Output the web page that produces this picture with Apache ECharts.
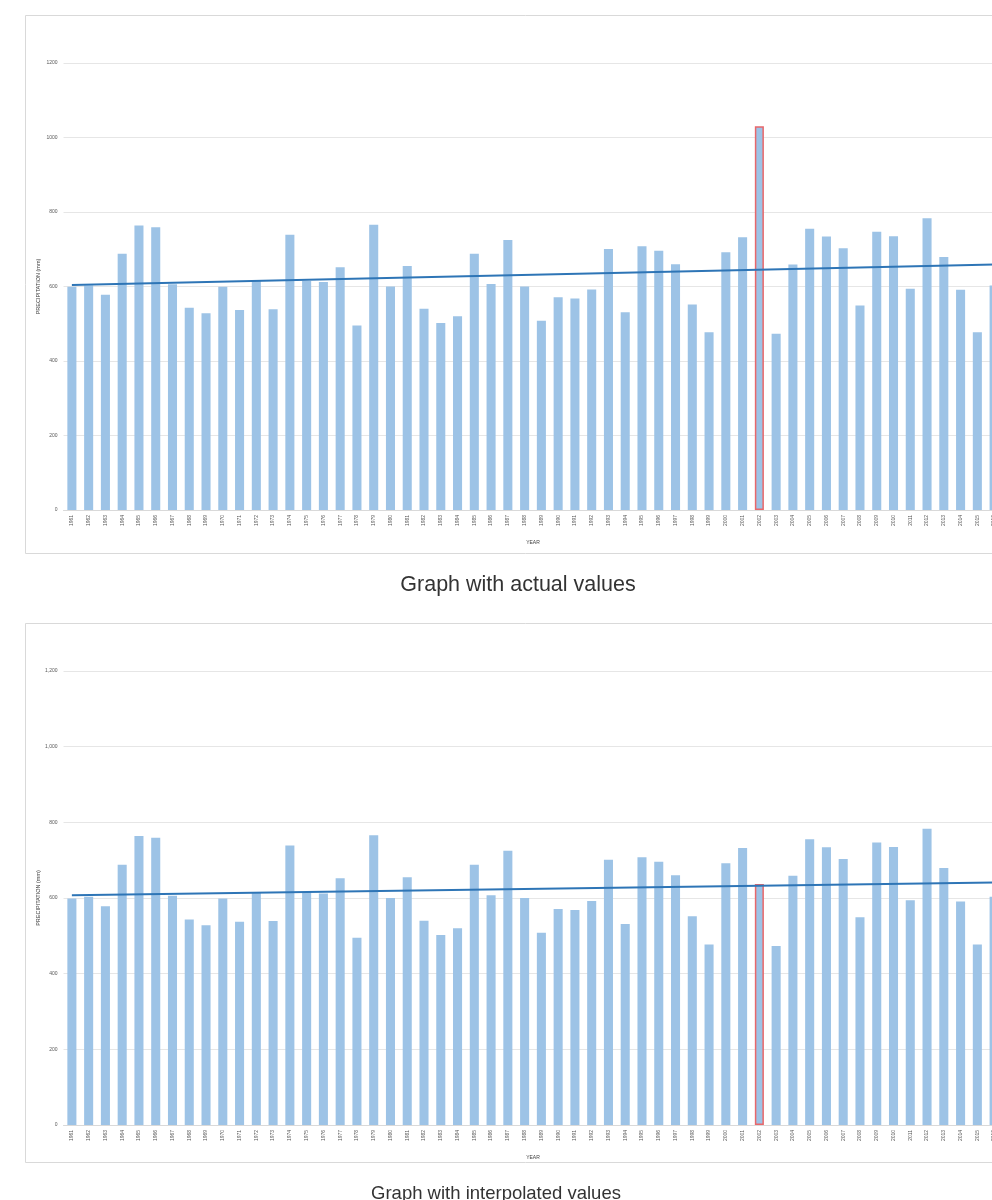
<!DOCTYPE html>
<html>
<head>
<meta charset="utf-8">
<script src="https://cdn.jsdelivr.net/npm/echarts@6/dist/echarts.min.js"></script>
<style>
    html, body { margin: 0; padding: 0; background: #fff; overflow: hidden; }
    #chart { position: absolute; left: 0; top: 0; width: 1040px; height: 1200px; }
</style>
</head>
<body>
<div id="chart"></div>
<script>
// precipitation per year (mm)
var years = ['1961','1962','1963','1964','1965','1966','1967','1968','1969','1970',
    '1971','1972','1973','1974','1975','1976','1977','1978','1979','1980',
    '1981','1982','1983','1984','1985','1986','1987','1988','1989','1990',
    '1991','1992','1993','1994','1995','1996','1997','1998','1999','2000',
    '2001','2002','2003','2004','2005','2006','2007','2008','2009','2010',
    '2011','2012','2013','2014','2015','2016'];
var actualValues = [599,603,578,688,764,759,606,543,528,599,
    537,615,539,739,615,612,652,495,766,600,
    655,540,502,520,688,607,725,600,508,571,
    568,592,701,531,708,696,660,552,477,692,
    732,1030,473,659,755,734,703,549,747,735,
    594,783,679,591,477,603];
var interpolatedValues = [599,603,578,688,764,759,606,543,528,599,
    537,615,539,739,615,612,652,495,766,600,
    655,540,502,520,688,607,725,600,508,571,
    568,592,701,531,708,696,660,552,477,692,
    732,637,473,659,755,734,703,549,747,735,
    594,783,679,591,477,603];
var highlightYear = '2002';
// trend line end points (first year, last year)
var trendActual = [604, 659];
var trendInterpolated = [607, 641];
var captions = ['Graph with actual values', 'Graph with interpolated values'];

var barColor = '#9dc3e6';
var trendColor = '#2e75b6';

function barData(values){
    return values.map(function(v, i){
        if(years[i] === highlightYear){
            return {value: v, itemStyle: {borderColor: '#e8676b', borderWidth: 1.5}};
        }
        return v;
    });
}

function xAxisFor(idx){
    return {
        type: 'category',
        gridIndex: idx,
        data: years,
        name: 'YEAR',
        nameLocation: 'middle',
        nameGap: 30,
        nameTextStyle: {fontSize: 5, color: '#404040', fontFamily: 'Liberation Sans'},
        axisLine: {lineStyle: {color: '#d9d9d9'}},
        axisTick: {show: false},
        axisLabel: {interval: 0, rotate: 90, fontSize: 5, color: '#595959', margin: 5, fontFamily: 'Liberation Sans'}
    };
}

function yAxisFor(idx, comma){
    return {
        type: 'value',
        gridIndex: idx,
        min: 0,
        max: 1200,
        interval: 200,
        name: 'PRECIPITATION (mm)',
        nameLocation: 'middle',
        nameGap: 22,
        nameMoveOverlap: false,
        nameTextStyle: {fontSize: 5.5, color: '#404040', fontFamily: 'Liberation Sans'},
        axisLine: {show: false},
        axisTick: {show: false},
        axisLabel: {
            fontSize: 5, color: '#595959', margin: 6, fontFamily: 'Liberation Sans',
            formatter: function(v){ return comma ? echarts.format.addCommas(v) : String(v); }
        },
        splitLine: {lineStyle: {color: '#e6e6e6'}}
    };
}

function trendLine(ends){
    return {
        silent: true,
        symbol: 'none',
        label: {show: false},
        lineStyle: {color: trendColor, width: 2, type: 'solid'},
        data: [[
            {coord: [years[0], ends[0]]},
            {coord: [years[years.length - 1], ends[1]]}
        ]]
    };
}

var myChart = echarts.init(document.getElementById('chart'));
var option = {
    animation: false,
    backgroundColor: '#fff',
    title: [
        {text: captions[0], left: 513, top: 569, textAlign: 'center',
            textStyle: {fontSize: 21.5, fontWeight: 'normal', color: '#333', fontFamily: 'Liberation Sans'}},
        {text: captions[1], left: 491, top: 1179, textAlign: 'center',
            textStyle: {fontSize: 18.5, fontWeight: 'normal', color: '#333', fontFamily: 'Liberation Sans'}}
    ],
    graphic: [
        {type: 'rect', shape: {x: 25.5, y: 15.5, width: 1000, height: 538}, style: {fill: 'none', stroke: '#d9d9d9', lineWidth: 1}, z: -1},
        {type: 'rect', shape: {x: 25.5, y: 623.5, width: 1000, height: 539}, style: {fill: 'none', stroke: '#d9d9d9', lineWidth: 1}, z: -1}
    ],
    grid: [
        {left: 63.5, top: 63, width: 939, height: 447},
        {left: 63.5, top: 671, width: 939, height: 454}
    ],
    xAxis: [xAxisFor(0), xAxisFor(1)],
    yAxis: [yAxisFor(0, false), yAxisFor(1, true)],
    series: [
        {
            type: 'bar',
            xAxisIndex: 0,
            yAxisIndex: 0,
            data: barData(actualValues),
            barCategoryGap: '46%',
            itemStyle: {color: barColor},
            markLine: trendLine(trendActual)
        },
        {
            type: 'bar',
            xAxisIndex: 1,
            yAxisIndex: 1,
            data: barData(interpolatedValues),
            barCategoryGap: '46%',
            itemStyle: {color: barColor},
            markLine: trendLine(trendInterpolated)
        }
    ]
};
myChart.setOption(option);
</script>
</body>
</html>
